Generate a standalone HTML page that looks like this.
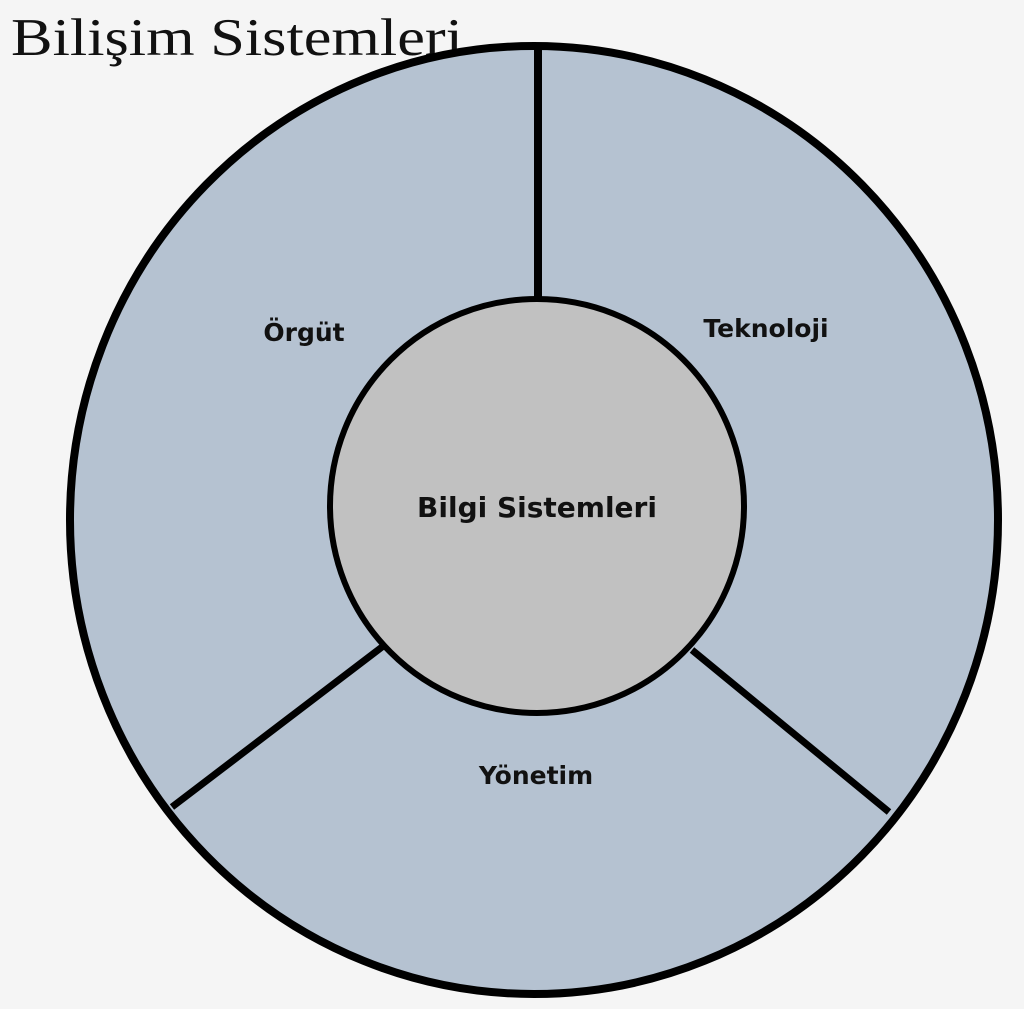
<!DOCTYPE html>
<html><head><meta charset="utf-8"><style>
html,body{margin:0;padding:0;background:#f5f5f5;width:1024px;height:1009px;overflow:hidden}
svg{position:absolute;left:0;top:0}
</style></head><body>
<svg width="1024" height="1009" viewBox="0 0 1024 1009">
<text x="11" y="55" font-family="'Liberation Serif',serif" font-size="53" fill="#111" textLength="452" lengthAdjust="spacingAndGlyphs">Bilişim Sistemleri</text>
<ellipse cx="534" cy="520" rx="464" ry="474" fill="#b5c2d1" stroke="#000" stroke-width="8"/>
<line x1="538" y1="46" x2="538" y2="298" stroke="#000" stroke-width="8"/>
<line x1="382" y1="647" x2="172" y2="807" stroke="#000" stroke-width="7"/>
<line x1="692" y1="650" x2="889" y2="812" stroke="#000" stroke-width="7"/>
<circle cx="537" cy="506" r="207" fill="#c1c1c1" stroke="#000" stroke-width="6"/>
<g font-family="'DejaVu Sans','Liberation Sans',sans-serif" font-weight="bold" fill="#111">
<text x="537" y="517" font-size="28" text-anchor="middle">Bilgi Sistemleri</text>
<text x="304" y="341" font-size="25" text-anchor="middle">Örgüt</text>
<text x="766" y="337" font-size="25" text-anchor="middle">Teknoloji</text>
<text x="536" y="784" font-size="25" text-anchor="middle">Yönetim</text>
</g>
</svg>
</body></html>
